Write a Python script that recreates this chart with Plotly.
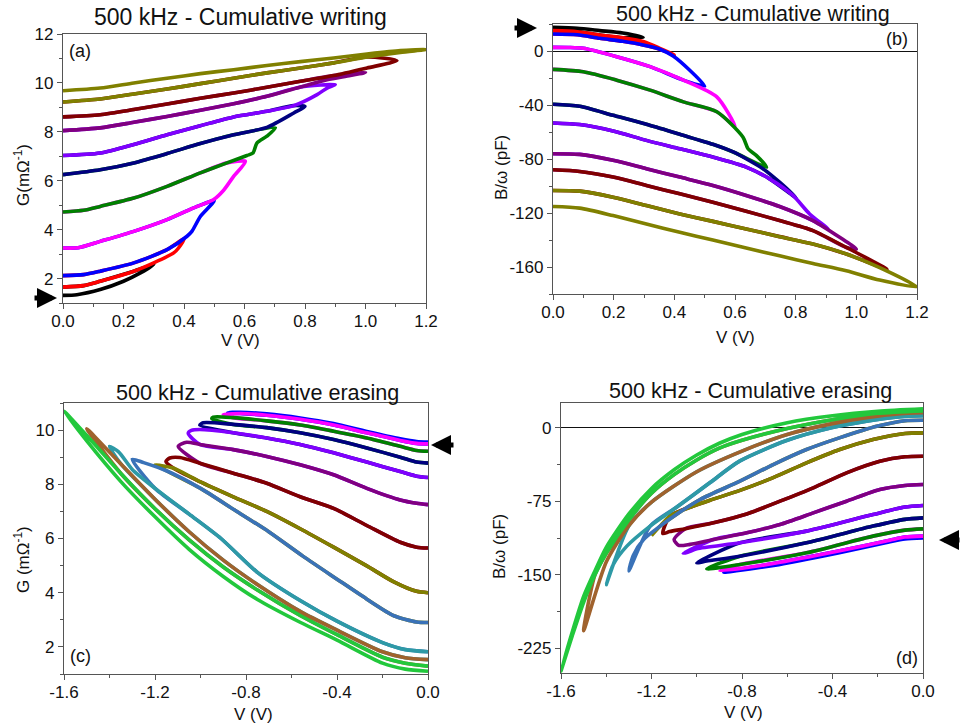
import plotly.graph_objects as go

# ---------------- DATA ----------------
# Panel (a): writing, G (mOhm^-1) vs V (V); forward branches (V from 0 to Vmax)
a_black_v = [0.0, 0.046, 0.123, 0.2, 0.256, 0.3]
a_black_g = [1.31, 1.34, 1.55, 1.89, 2.23, 2.57]
a_red_v = [0.0, 0.068, 0.123, 0.234, 0.3, 0.366, 0.382, 0.4]
a_red_g = [1.65, 1.71, 1.89, 2.30, 2.64, 3.05, 3.25, 3.62]
a_blue_v = [0.0, 0.068, 0.123, 0.234, 0.344, 0.41, 0.426, 0.454, 0.5]
a_blue_g = [2.12, 2.16, 2.30, 2.64, 3.18, 3.73, 3.93, 4.54, 5.19]
a_magenta_v = [0.0, 0.05, 0.123, 0.234, 0.344, 0.432, 0.498, 0.531, 0.564, 0.603]
a_magenta_g = [3.25, 3.26, 3.52, 3.93, 4.41, 4.89, 5.23, 5.61, 6.18, 6.79]
a_green_v = [0.0, 0.068, 0.123, 0.234, 0.344, 0.454, 0.542, 0.608, 0.628, 0.641, 0.674, 0.702]
a_green_g = [4.72, 4.79, 4.95, 5.29, 5.77, 6.32, 6.73, 7.03, 7.13, 7.54, 7.82, 8.16]
a_navy_v = [0.0, 0.123, 0.234, 0.344, 0.454, 0.564, 0.674, 0.763, 0.80]
a_navy_g = [6.25, 6.45, 6.73, 7.11, 7.52, 7.88, 8.18, 8.77, 9.04]
a_violet_v = [0.0, 0.123, 0.234, 0.344, 0.454, 0.564, 0.674, 0.763, 0.84, 0.873, 0.90]
a_violet_g = [7.03, 7.13, 7.48, 7.88, 8.25, 8.61, 8.84, 9.07, 9.52, 9.79, 9.93]
a_purple_v = [0.0, 0.123, 0.234, 0.344, 0.454, 0.564, 0.674, 0.785, 0.873, 0.95, 1.0]
a_purple_g = [8.05, 8.16, 8.39, 8.63, 8.88, 9.15, 9.45, 9.83, 10.13, 10.30, 10.43]
a_darkred_v = [0.0, 0.123, 0.234, 0.344, 0.454, 0.564, 0.674, 0.785, 0.895, 1.005, 1.104]
a_darkred_g = [8.61, 8.70, 8.91, 9.14, 9.37, 9.59, 9.82, 10.07, 10.30, 10.61, 10.91]
a_olive_v = [0.0, 0.123, 0.234, 0.344, 0.454, 0.564, 0.674, 0.785, 0.895, 1.005, 1.115, 1.2]
a_olive_g = [9.22, 9.34, 9.55, 9.75, 9.97, 10.19, 10.41, 10.61, 10.82, 11.06, 11.25, 11.36]
a_olive_ret_v = [1.115, 1.005, 0.895, 0.785, 0.674, 0.564, 0.454, 0.344, 0.234, 0.123, 0.0]
a_olive_ret_g = [11.32, 11.18, 11.02, 10.87, 10.71, 10.54, 10.38, 10.19, 10.0, 9.79, 9.68]

# Panel (b): writing, B/omega (pF) vs V (V)
b_black_v = [0.0, 0.08, 0.154, 0.23, 0.297]
b_black_b = [17.6, 16.8, 15.1, 13.3, 10.2]
b_red_v = [0.0, 0.08, 0.154, 0.23, 0.3, 0.352, 0.40]
b_red_b = [15.1, 14.3, 11.9, 9.8, 6.9, 2.0, -3.0]
b_blue_v = [0.0, 0.08, 0.154, 0.23, 0.297, 0.35, 0.396, 0.45, 0.5]
b_blue_b = [12.6, 12.0, 9.4, 7.2, 4.5, 1.5, -3.7, -14.1, -26.0]
b_magenta_v = [0.0, 0.05, 0.1, 0.21, 0.32, 0.43, 0.54, 0.6]
b_magenta_b = [2.7, 2.6, 2.0, -4.2, -11.6, -21.6, -34.0, -55.8]
b_green_v = [0.0, 0.1, 0.21, 0.32, 0.43, 0.54, 0.626, 0.643, 0.67, 0.704]
b_green_b = [-13.6, -15.4, -21.6, -29.0, -37.7, -45.0, -63.7, -72.4, -77.3, -86.0]
b_navy_v = [0.0, 0.088, 0.198, 0.308, 0.418, 0.527, 0.594, 0.692, 0.747, 0.802]
b_navy_b = [-39.4, -40.9, -47.6, -54.3, -61.7, -69.1, -74.8, -87.2, -97.2, -108.8]
b_violet_v = [0.0, 0.088, 0.198, 0.308, 0.418, 0.527, 0.637, 0.714, 0.791, 0.846, 0.907]
b_violet_b = [-53.3, -54.5, -59.2, -66.2, -72.4, -78.6, -86.0, -94.7, -107.0, -120.7, -131.8]
b_purple_v = [0.0, 0.088, 0.198, 0.308, 0.418, 0.527, 0.637, 0.747, 0.857, 0.945, 1.0]
b_purple_b = [-76.1, -76.6, -81.0, -87.2, -93.4, -99.6, -107.0, -115.2, -125.6, -138.0, -146.7]
b_darkred_v = [0.0, 0.088, 0.198, 0.308, 0.418, 0.527, 0.637, 0.747, 0.857, 0.967, 1.101]
b_darkred_b = [-88.0, -89.2, -93.4, -99.6, -105.8, -112.0, -118.7, -125.6, -133.0, -145.5, -161.6]
b_olive_v = [0.0, 0.088, 0.198, 0.308, 0.418, 0.527, 0.637, 0.747, 0.857, 0.967, 1.077, 1.2]
b_olive_b = [-103.3, -103.8, -108.3, -114.5, -120.7, -126.2, -131.8, -137.5, -143.0, -150.4, -160.4, -174.7]
b_olive_ret_v = [1.077, 0.967, 0.857, 0.747, 0.637, 0.527, 0.418, 0.308, 0.198, 0.088, 0.0]
b_olive_ret_b = [-169.7, -162.8, -157.4, -151.7, -146.0, -140.0, -134.3, -128.1, -121.9, -116.4, -115.2]

# Panel (c): erasing, G vs V (V from 0 down to Vmin)
c_blue_v = [0.0, -0.05, -0.122, -0.269, -0.415, -0.562, -0.709, -0.826, -0.88]
c_blue_g = [9.56, 9.58, 9.68, 9.95, 10.24, 10.45, 10.60, 10.66, 10.64]
c_magenta_v = [0.0, -0.05, -0.122, -0.269, -0.415, -0.562, -0.709, -0.826, -0.9]
c_magenta_g = [9.49, 9.51, 9.62, 9.90, 10.19, 10.40, 10.55, 10.61, 10.57]
c_green_v = [0.0, -0.05, -0.122, -0.269, -0.415, -0.562, -0.709, -0.856, -0.944, -0.95]
c_green_g = [9.22, 9.25, 9.40, 9.71, 9.96, 10.19, 10.34, 10.46, 10.48, 10.42]
c_navy_v = [0.0, -0.05, -0.122, -0.269, -0.415, -0.562, -0.709, -0.856, -0.988, -1.003]
c_navy_g = [8.78, 8.82, 9.0, 9.34, 9.65, 9.90, 10.09, 10.21, 10.27, 10.18]
c_violet_v = [0.0, -0.05, -0.122, -0.269, -0.415, -0.562, -0.709, -0.856, -1.003, -1.04, -1.054]
c_violet_g = [8.25, 8.30, 8.47, 8.82, 9.16, 9.47, 9.71, 9.90, 10.02, 9.99, 9.88]
c_purple_v = [0.0, -0.05, -0.122, -0.269, -0.415, -0.562, -0.709, -0.856, -1.003, -1.061, -1.098]
c_purple_g = [7.25, 7.30, 7.42, 7.85, 8.35, 8.72, 9.03, 9.28, 9.47, 9.55, 9.40]
c_darkred_v = [0.0, -0.05, -0.122, -0.269, -0.415, -0.562, -0.709, -0.856, -1.003, -1.091, -1.135, -1.152]
c_darkred_g = [5.65, 5.68, 5.86, 6.48, 7.11, 7.54, 8.04, 8.41, 8.78, 8.99, 8.97, 8.84]
c_olive_v = [0.0, -0.05, -0.15, -0.269, -0.415, -0.562, -0.709, -0.856, -1.003, -1.12, -1.179, -1.2]
c_olive_g = [4.0, 4.05, 4.40, 4.99, 5.68, 6.36, 7.0, 7.54, 8.10, 8.60, 8.70, 8.72]
c_steel_v = [0.0, -0.05, -0.15, -0.27, -0.4, -0.55, -0.7, -0.85, -1.0, -1.15, -1.25, -1.3]
c_steel_g = [2.90, 2.92, 3.15, 3.77, 4.5, 5.35, 6.25, 7.05, 7.85, 8.5, 8.8, 8.92]
c_teal_v = [0.0, -0.1, -0.2, -0.4, -0.56, -0.75, -0.91, -1.05, -1.2, -1.3, -1.36, -1.4]
c_teal_g = [1.82, 1.90, 2.16, 2.95, 3.70, 4.75, 6.0, 6.9, 7.85, 8.55, 9.2, 9.4]
c_brown_v = [0.0, -0.1, -0.2, -0.4, -0.56, -0.75, -0.9, -1.05, -1.2, -1.35, -1.5]
c_brown_g = [1.53, 1.60, 1.82, 2.62, 3.30, 4.30, 5.20, 6.25, 7.45, 8.75, 10.05]
c_lime_v = [0.0, -0.1, -0.2, -0.4, -0.56, -0.75, -0.9, -1.05, -1.2, -1.35, -1.5, -1.6]
c_lime_g = [1.29, 1.40, 1.62, 2.45, 3.15, 4.10, 4.95, 5.95, 7.10, 8.40, 9.80, 10.7]
c_lime_ret_v = [-1.5, -1.35, -1.2, -1.05, -0.9, -0.75, -0.56, -0.4, -0.2, -0.1, 0.0]
c_lime_ret_g = [9.6, 8.1, 6.8, 5.6, 4.6, 3.75, 2.9, 2.25, 1.4, 1.18, 1.10]

# Panel (d): erasing, B/omega vs V
d_blue_v = [0.0, -0.08, -0.15, -0.37, -0.66, -0.88]
d_blue_b = [-112.5, -113.5, -116.5, -127.5, -140.5, -147.5]
d_magenta_v = [0.0, -0.08, -0.147, -0.368, -0.662, -0.897]
d_magenta_b = [-110.6, -111.5, -114.7, -125.6, -138.5, -146.0]
d_green_v = [0.0, -0.08, -0.221, -0.515, -0.809, -0.956]
d_green_b = [-103.2, -104.5, -110.6, -127.6, -139.5, -143.9]
d_navy_v = [0.0, -0.08, -0.221, -0.515, -0.809, -0.956, -1.0]
d_navy_b = [-92.0, -93.5, -100.4, -117.4, -131.0, -136.0, -137.8]
d_violet_v = [0.0, -0.08, -0.221, -0.515, -0.809, -1.0, -1.04, -1.06]
d_violet_b = [-79.4, -81.0, -88.6, -105.5, -117.4, -123.5, -127.0, -128.0]
d_purple_v = [0.0, -0.08, -0.191, -0.338, -0.485, -0.632, -0.779, -0.926, -1.03, -1.08, -1.1]
d_purple_b = [-58.0, -59.0, -63.1, -75.0, -86.9, -98.7, -107.2, -114.0, -119.0, -120.0, -114.0]
d_darkred_v = [0.0, -0.08, -0.191, -0.338, -0.485, -0.632, -0.779, -0.926, -1.05, -1.12, -1.15]
d_darkred_b = [-29.2, -29.8, -34.3, -46.1, -61.4, -75.0, -88.0, -97.0, -103.0, -106.0, -108.0]
d_olive_v = [0.0, -0.08, -0.221, -0.368, -0.515, -0.662, -0.809, -0.941, -1.015, -1.118, -1.162, -1.2]
d_olive_b = [-5.4, -6.0, -12.2, -22.4, -36.0, -51.0, -64.0, -74.0, -80.0, -90.0, -100.4, -110.0]
d_steel_v = [0.0, -0.08, -0.2, -0.37, -0.515, -0.662, -0.809, -0.985, -1.1, -1.162, -1.235, -1.28, -1.3]
d_steel_b = [7.5, 7.0, 1.5, -10.5, -22.4, -37.7, -54.6, -73.3, -90.0, -100.4, -114.0, -130.0, -146.0]
d_teal_v = [0.0, -0.1, -0.25, -0.4, -0.6, -0.809, -0.941, -1.088, -1.206, -1.309, -1.37, -1.4]
d_teal_b = [12.0, 11.0, 6.5, 0.0, -13.0, -34.0, -56.0, -81.0, -100.4, -120.8, -140.0, -160.0]
d_brown_v = [0.0, -0.1, -0.25, -0.4, -0.6, -0.8, -1.0, -1.2, -1.3, -1.4, -1.5]
d_brown_b = [15.0, 14.0, 10.0, 4.0, -7.0, -24.0, -45.0, -76.0, -100.0, -137.0, -207.0]
d_lime_v = [0.0, -0.2, -0.4, -0.6, -0.8, -0.9, -1.0, -1.1, -1.2, -1.3, -1.4, -1.45, -1.5, -1.55, -1.6]
d_lime_b = [17.0, 14.5, 8.0, -1.0, -13.0, -21.0, -33.0, -48.0, -67.0, -94.0, -128.0, -150.0, -178.0, -212.0, -248.0]
d_lime_ret_v = [-1.55, -1.5, -1.45, -1.4, -1.3, -1.2, -1.1, -1.0, -0.9, -0.8, -0.6, -0.4, -0.2, 0.0]
d_lime_ret_b = [-208.0, -172.0, -146.0, -122.0, -88.0, -62.0, -43.0, -28.0, -16.0, -7.0, 5.0, 12.0, 16.5, 19.0]

# tick labels (as printed in the figure)
WRITE_V_TICKS = [0.0, 0.2, 0.4, 0.6, 0.8, 1.0, 1.2]
WRITE_V_TEXT = ["0.0", "0.2", "0.4", "0.6", "0.8", "1.0", "1.2"]
ERASE_V_TICKS = [-1.6, -1.2, -0.8, -0.4, 0.0]
ERASE_V_TEXT = ["-1.6", "-1.2", "-0.8", "-0.4", "0.0"]
A_G_TICKS = [2, 4, 6, 8, 10, 12]
B_B_TICKS = [-160, -120, -80, -40, 0]
B_B_TEXT = ["-160", "-120", "-80", "-40", "0"]
C_G_TICKS = [2, 4, 6, 8, 10]
D_B_TICKS = [-225, -150, -75, 0]
D_B_TEXT = ["-225", "-150", "-75", "0"]

WRITE_COLORS = ["#000000", "#ff0000", "#0000ff", "#ff00ff", "#008000", "#000080",
                "#8000ff", "#800080", "#800000", "#808000"]
ERASE_COLORS = ["#0000ff", "#ff00ff", "#008000", "#000080", "#8000ff", "#800080",
                "#800000", "#808000", "#3a72b8", "#2e9aa6", "#a0622d", "#22c83c"]

A_FWD = [(a_black_v, a_black_g), (a_red_v, a_red_g), (a_blue_v, a_blue_g), (a_magenta_v, a_magenta_g),
         (a_green_v, a_green_g), (a_navy_v, a_navy_g), (a_violet_v, a_violet_g), (a_purple_v, a_purple_g),
         (a_darkred_v, a_darkred_g), (a_olive_v, a_olive_g)]
B_FWD = [(b_black_v, b_black_b), (b_red_v, b_red_b), (b_blue_v, b_blue_b), (b_magenta_v, b_magenta_b),
         (b_green_v, b_green_b), (b_navy_v, b_navy_b), (b_violet_v, b_violet_b), (b_purple_v, b_purple_b),
         (b_darkred_v, b_darkred_b), (b_olive_v, b_olive_b)]
C_FWD = [(c_blue_v, c_blue_g), (c_magenta_v, c_magenta_g), (c_green_v, c_green_g), (c_navy_v, c_navy_g),
         (c_violet_v, c_violet_g), (c_purple_v, c_purple_g), (c_darkred_v, c_darkred_g), (c_olive_v, c_olive_g),
         (c_steel_v, c_steel_g), (c_teal_v, c_teal_g), (c_brown_v, c_brown_g), (c_lime_v, c_lime_g)]
D_FWD = [(d_blue_v, d_blue_b), (d_magenta_v, d_magenta_b), (d_green_v, d_green_b), (d_navy_v, d_navy_b),
         (d_violet_v, d_violet_b), (d_purple_v, d_purple_b), (d_darkred_v, d_darkred_b), (d_olive_v, d_olive_b),
         (d_steel_v, d_steel_b), (d_teal_v, d_teal_b), (d_brown_v, d_brown_b), (d_lime_v, d_lime_b)]


def loops(fwds, ret):
    """Each sweep: its forward branch, then back along the next sweep's forward branch."""
    out = []
    for i, (v, y) in enumerate(fwds):
        pv, py = list(v), list(y)
        if i + 1 < len(fwds):
            nv, ny = fwds[i + 1]
            back = [(a, b) for a, b in zip(nv, ny) if abs(a) < abs(v[-1]) - 0.03]
            back.reverse()
            pv += [a for a, _ in back]
            py += [b for _, b in back]
        else:
            pv += list(ret[0])
            py += list(ret[1])
        out.append((pv, py))
    return out


fig = go.Figure()
FONT = "Liberation Sans, Arial, sans-serif"
W, H = 961, 726


def add(paths, colors, k):
    for (pv, py), col in zip(paths, colors):
        fig.add_trace(go.Scatter(x=pv, y=py, mode="lines", xaxis="x" + k, yaxis="y" + k,
                                 line=dict(color=col, width=3.6, shape="spline", smoothing=0.7),
                                 showlegend=False, hoverinfo="skip"))


add(loops(A_FWD, (a_olive_ret_v, a_olive_ret_g)), WRITE_COLORS, "")
add(loops(B_FWD, (b_olive_ret_v, b_olive_ret_b)), WRITE_COLORS, "2")
add(loops(C_FWD, (c_lime_ret_v, c_lime_ret_g)), ERASE_COLORS, "3")
add(loops(D_FWD, (d_lime_ret_v, d_lime_ret_b)), ERASE_COLORS, "4")


def px_dom_x(a, b):
    return [a / W, b / W]


def px_dom_y(top, bot):
    return [1 - bot / H, 1 - top / H]


def axis(dom, rng, tv, tt, minor, **kw):
    d = dict(domain=dom, range=rng, tickmode="array", tickvals=tv, ticktext=tt, automargin=False,
             showline=True, mirror=True, linecolor="#555555", linewidth=1.3,
             ticks="outside", ticklen=5, tickwidth=1.3, tickcolor="#555555",
             showgrid=False, zeroline=False,
             tickfont=dict(family=FONT, size=17, color="#111111"),
             minor=dict(dtick=minor, tick0=0, ticks="outside", ticklen=3, tickwidth=1.1,
                        tickcolor="#555555", showgrid=False))
    d.update(kw)
    return d


fig.update_layout(
    width=W, height=H, margin=dict(l=0, r=0, t=0, b=0, autoexpand=False),
    paper_bgcolor="white", plot_bgcolor="white",
    xaxis=axis(px_dom_x(63, 426), [0, 1.2], WRITE_V_TICKS, WRITE_V_TEXT, 0.1, anchor="y",
               ticklabelstandoff=-3),
    yaxis=axis(px_dom_y(34, 303), [1, 12], A_G_TICKS, [str(t) for t in A_G_TICKS], 1, anchor="x"),
    xaxis2=axis(px_dom_x(553, 917), [0, 1.2], WRITE_V_TICKS, WRITE_V_TEXT, 0.1, anchor="y2",
                ticklabelstandoff=-3),
    yaxis2=axis(px_dom_y(24, 294), [-180, 20], B_B_TICKS, B_B_TEXT, 20, anchor="x2",
                zeroline=True, zerolinecolor="#111111", zerolinewidth=1.2),
    xaxis3=axis(px_dom_x(64, 428), [-1.6, 0], ERASE_V_TICKS, ERASE_V_TEXT, 0.2, anchor="y3",
                ticklabelstandoff=-3),
    yaxis3=axis(px_dom_y(403, 674), [1, 11], C_G_TICKS, [str(t) for t in C_G_TICKS], 1, anchor="x3"),
    xaxis4=axis(px_dom_x(561, 923), [-1.6, 0], ERASE_V_TICKS, ERASE_V_TEXT, 0.2, anchor="y4",
                ticklabelstandoff=-3),
    yaxis4=axis(px_dom_y(403, 673), [-250, 25], D_B_TICKS, D_B_TEXT, 37.5, anchor="x4",
                zeroline=True, zerolinecolor="#111111", zerolinewidth=1.2),
)


def txt(x, y, s, size, angle=0):
    fig.add_annotation(x=x / W, y=1 - y / H, xref="paper", yref="paper", text=s, showarrow=False,
                       textangle=angle, xanchor="center", yanchor="middle",
                       font=dict(family=FONT, size=size, color="#111111"))


txt(240, 17, "500 kHz - Cumulative writing", 23)
txt(753, 14, "500 kHz - Cumulative writing", 21.5)
txt(257, 392, "500 kHz - Cumulative erasing", 21.6)
txt(750, 391, "500 kHz - Cumulative erasing", 21.6)
txt(240, 340, "V (V)", 17)
txt(735, 337, "V (V)", 17)
txt(253, 714, "V (V)", 17)
txt(743, 712, "V (V)", 17)
txt(22, 175, "G(mΩ<sup>-1</sup>)", 17, -90)
txt(501, 168, "B/ω (pF)", 17, -90)
txt(22, 560, "G (mΩ<sup>-1</sup>)", 17, -90)
txt(499, 547, "B/ω (pF)", 17, -90)
txt(80, 51, "(a)", 18)
txt(897, 39, "(b)", 18)
txt(80, 656, "(c)", 18)
txt(907, 658, "(d)", 18)


def arrow(xh, yh, dx):
    fig.add_annotation(x=xh / W, y=1 - yh / H, xref="paper", yref="paper", ax=dx, ay=0,
                       showarrow=True, arrowhead=2, arrowsize=0.8, arrowwidth=5, arrowcolor="#000000",
                       text="")


arrow(57, 298, -24)
arrow(537, 28, -24)
arrow(431, 445, 24)
arrow(939, 540, 22)

fig.write_html("out.html")
